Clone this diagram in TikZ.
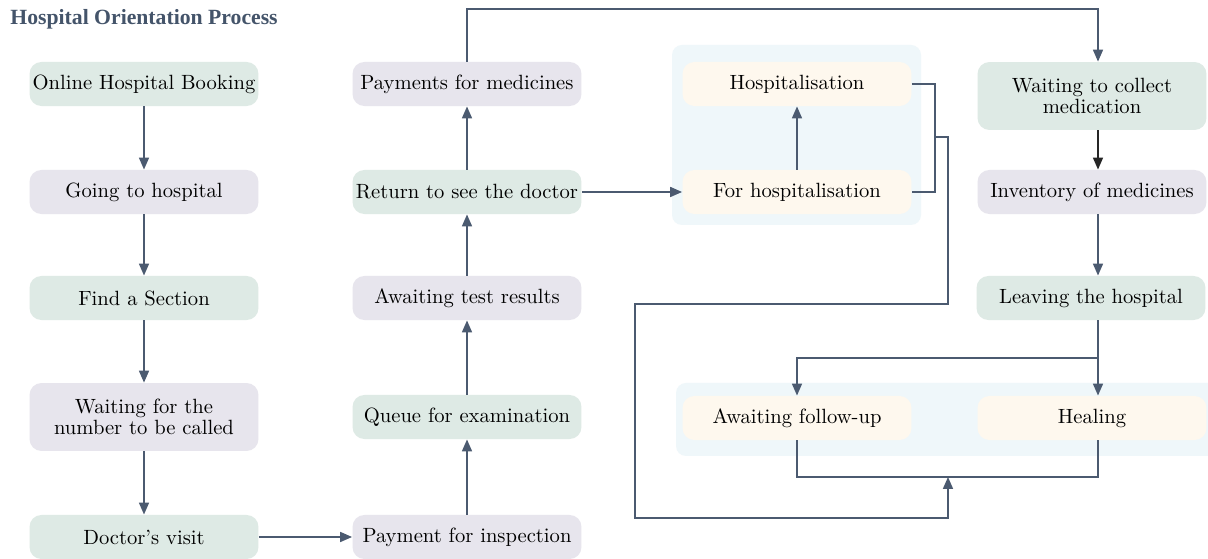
\documentclass[tikz,border=0pt]{standalone}
\usepackage{fontspec}
\newfontfamily\titlefont{Liberation Serif}
\usetikzlibrary{arrows.meta}
\definecolor{gfill}{HTML}{DEEAE5}
\definecolor{lfill}{HTML}{E7E5ED}
\definecolor{cfill}{HTML}{FEF8EE}
\definecolor{kfill}{HTML}{EFF7FA}
\definecolor{lncol}{HTML}{4B5A70}
\definecolor{ttcol}{HTML}{44546A}
\newcommand\twoln[2]{\vbox{\baselineskip=10pt\hbox to 100pt{\hss #1\hss}\hbox to 100pt{\hss #2\hss}}}
\tikzset{
  box/.style={rounded corners=5.5pt, minimum width=105.5pt, minimum height=20.3pt, inner sep=0pt,
    font=\fontsize{9.5pt}{10pt}\selectfont},
  gbox/.style={box, fill=gfill},
  lbox/.style={box, fill=lfill},
  cbox/.style={box, fill=cfill},
  tall/.style={minimum height=31.3pt},
  ln/.style={draw=lncol, line width=0.75pt},
  arr/.style={ln, -{Triangle[length=5.5pt,width=4.6pt]}},
  darr/.style={draw=black!85, line width=0.75pt, -{Triangle[length=5.5pt,width=4.6pt]}},
  container/.style={fill=kfill, rounded corners=4.6pt},
}
\begin{document}
\begin{tikzpicture}[x=0.4608pt,y=-0.4608pt]
\useasboundingbox (0,0) rectangle (1208,559);
\fill[white] (0,0) rectangle (1208,559);
% title
\node[anchor=base west, inner sep=0pt, text=ttcol, font=\titlefont\bfseries] (title) at (10,25) {Hospital Orientation Process};
% containers
\fill[container] (672,45) rectangle (921,225);
\fill[container] (676,383) rectangle (1230,456);
% column 1
\node[gbox] (n1) at (144,84) {Online Hospital Booking};
\node[lbox] (n2) at (144,192) {Going to hospital};
\node[gbox] (n3) at (144,298) {Find a Section};
\node[lbox,tall] (n4) at (144,417) {\twoln{Waiting for the}{number to be called}};
\node[gbox] (n5) at (144,537) {Doctor's visit};
% column 2
\node[lbox] (m1) at (467,537) {Payment for inspection};
\node[gbox] (m2) at (467,417) {Queue for examination};
\node[lbox] (m3) at (467,298) {Awaiting test results};
\node[gbox] (m4) at (467,192) {Return to see the doctor};
\node[lbox] (m5) at (467,84) {Payments for medicines};
% hospitalisation group
\node[cbox] (h1) at (797,84) {Hospitalisation};
\node[cbox] (h2) at (797,192) {For hospitalisation};
% column 4
\node[gbox,tall] (r1) at (1092,96) {\twoln{Waiting to collect}{medication}};
\node[lbox] (r2) at (1092,192) {Inventory of medicines};
\node[gbox] (r3) at (1091,298) {Leaving the hospital};
% follow-up group
\node[cbox] (f1) at (797,418) {Awaiting follow-up};
\node[cbox] (f2) at (1092,418) {Healing};
% helper coordinates
\coordinate (x4) at (1098,0);
\coordinate (top) at (1098,9);
\coordinate (hx) at (935,0);
\coordinate (hj) at (935,137);
\coordinate (bj) at (1098,358);
\coordinate (mj) at (948,477);
% connectors column 1
\draw[arr] (n1) -- (n2);
\draw[arr] (n2) -- (n3);
\draw[arr] (n3) -- (n4);
\draw[arr] (n4) -- (n5);
\draw[arr] (n5) -- (m1);
% column 2
\draw[arr] (m1) -- (m2);
\draw[arr] (m2) -- (m3);
\draw[arr] (m3) -- (m4);
\draw[arr] (m4) -- (m5);
\draw[arr] (m4) -- (h2);
\draw[arr] (m5.north) -- (m5.north |- top) -- (top) -- (r1.north -| x4);
% hospitalisation group
\draw[arr] (h2) -- (h1);
\draw[ln] (h1.east) -- (h1.east -| hx) -- (h2.east -| hx) -- (h2.east);
\draw[arr] (hj) -- (948,137) -- (948,304) -- (635,304) -- (635,518) -- (948,518) -- (mj);
% column 4
\draw[darr] (r1.south -| x4) -- (r2.north -| x4);
\draw[arr] (r2.south -| x4) -- (r3.north -| x4);
\draw[arr] (r3.south -| x4) -- (f2.north -| x4);
\draw[arr] (bj) -| (f1.north);
% merge of follow-up group
\draw[ln] (f1.south) |- (mj) -| (f2.south -| x4);
\end{tikzpicture}
\end{document}
